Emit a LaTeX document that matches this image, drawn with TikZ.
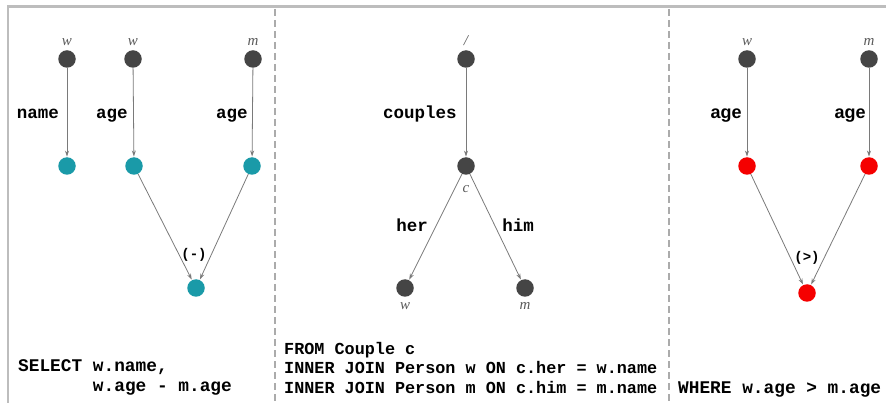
\documentclass[tikz,border=0pt]{standalone}
\usepackage{fontspec}
\setmainfont{Liberation Serif}
\setsansfont{Liberation Sans}
\setmonofont{Liberation Mono}
\usetikzlibrary{arrows.meta}

\definecolor{darkdot}{HTML}{454545}
\definecolor{tealdot}{HTML}{1A9AA8}
\definecolor{testdot}{HTML}{F50000}
\definecolor{linkgray}{HTML}{7A7A7A}
\definecolor{framegray}{HTML}{BDBDBD}
\definecolor{sepgray}{HTML}{ABABAB}
\definecolor{vargray}{HTML}{5A5A5A}

\begin{document}
\begin{tikzpicture}[x=1pt,y=-1pt,
  vertex/.style={circle,inner sep=0pt,minimum size=17.5pt},
  entity/.style={vertex,fill=darkdot},
  value/.style={vertex,fill=tealdot},
  test/.style={vertex,fill=testdot},
  var/.style={text=vargray,font=\fontsize{15}{15}\selectfont\itshape,inner sep=0pt},
  attr/.style={anchor=base,inner sep=0pt,font=\fontsize{17.5}{17.5}\selectfont\ttfamily\bfseries},
  sattr/.style={anchor=base,inner sep=0pt,font=\fontsize{18}{18}\selectfont\sffamily\bfseries},
  op/.style={anchor=base,inner sep=0pt,font=\fontsize{14}{14}\selectfont\ttfamily\bfseries},
  % multi-line: base is the baseline of the last line
  sql/.style={anchor=base west,inner sep=0pt,align=left,
    font=\fontsize{17.8}{19.5}\selectfont\ttfamily\bfseries},
  link/.style={draw=linkgray,line width=0.8pt,-{Stealth[length=6pt,width=4pt]},shorten >=0.5pt}]

\useasboundingbox (0,0) rectangle (886,403);

% frame and panel separators
\draw[framegray,line width=2.2pt] (8,403) -- (8,6.5) -- (886,6.5);
\draw[sepgray,line width=1.6pt,dash pattern=on 7pt off 4pt] (275,9) -- (275,403);
\draw[sepgray,line width=1.6pt,dash pattern=on 7pt off 4pt] (669,9) -- (669,403);

% SELECT
\node[entity] (w1) at (67,59)  {};
\node[entity] (w2) at (133,59) {};
\node[entity] (m1) at (253,59) {};
\node[value]  (n1) at (67,166)  {};
\node[value]  (a1) at (134,166) {};
\node[value]  (a2) at (252,166) {};
\node[value]  (d)  at (196,288) {};
\node[var] at (67,42)  {w};
\node[var] at (133,42) {w};
\node[var] at (253,42) {m};
\draw[link] (w1) -- (n1);
\draw[link] (w2) -- (a1);
\draw[link] (m1) -- (a2);
\draw[link] (a1) -- (d);
\draw[link] (a2) -- (d);
\node[attr] at (38,119)  {name};
\node[attr] at (112,119) {age};
\node[attr] at (232,119) {age};
\node[op]   at (194,259) {(-)};
\node[sql] (sel) at (18,391) {SELECT w.name,\\\phantom{SELECT\ }w.age - m.age};

% FROM ... JOIN
\node[entity] (root) at (466,59)  {};
\node[entity] (c)    at (466,166) {};
\node[entity] (w)    at (405,288) {};
\node[entity] (m)    at (525,288) {};
\node[var] at (466,41)  {/};
\node[var] at (466,189) {c};
\node[var] at (405,306) {w};
\node[var] at (525,306) {m};
\draw[link] (root) -- (c);
\draw[link] (c) -- (w);
\draw[link] (c) -- (m);
\node[attr] at (420,119) {couples};
\node[attr] at (412,232) {her};
\node[attr] at (518,232) {him};
\node[sql,font=\fontsize{16.8}{19.5}\selectfont\ttfamily\bfseries] (from) at (284,393)
  {FROM Couple c\\INNER JOIN Person w ON c.her = w.name\\INNER JOIN Person m ON c.him = m.name};

% WHERE
\node[entity] (w3) at (747,59)  {};
\node[entity] (m3) at (869,59)  {};
\node[test]   (b1) at (747,166) {};
\node[test]   (b2) at (869,166) {};
\node[test]   (gt) at (807,293) {};
\node[var] at (747,42) {w};
\node[var] at (869,42) {m};
\draw[link] (w3) -- (b1);
\draw[link] (m3) -- (b2);
\draw[link] (b1) -- (gt);
\draw[link] (b2) -- (gt);
\node[sattr] at (726,119) {age};
\node[sattr] at (850,119) {age};
\node[op]    at (807,262) {(>)};
\node[sql] (where) at (678,393) {WHERE w.age > m.age};

\end{tikzpicture}
\end{document}
